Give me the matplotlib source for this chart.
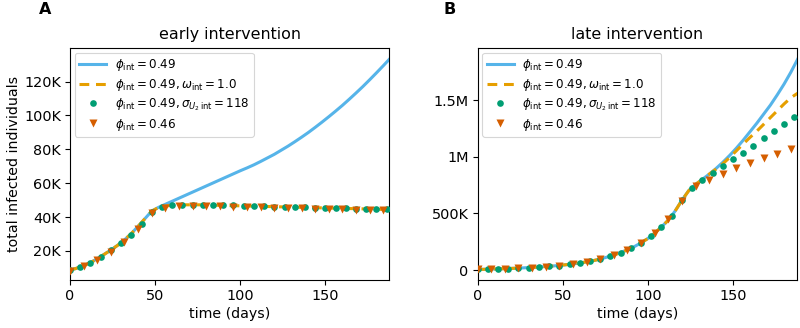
import matplotlib
matplotlib.use("Agg")
import matplotlib.pyplot as plt
from matplotlib.ticker import FuncFormatter

# ---------------- data ----------------
# Panel A (early intervention), values in thousands
tA_line = list(range(0, 189, 4))
A_blue = [8.5, 9.8, 11.3, 13.0, 15.4, 17.9, 20.5, 23.3, 26.5, 30.2, 34.5, 39.0, 43.5,
          45.7, 47.5, 49.3, 51.1, 52.9, 54.7, 56.5, 58.3, 60.1, 61.9, 63.7, 65.5, 67.3,
          69.0, 70.8, 72.8, 74.9, 77.0, 79.4, 81.8, 84.4, 87.1, 89.9, 92.9, 96.0, 99.2,
          102.5, 105.9, 109.5, 113.2, 117.0, 121.0, 125.1, 129.3, 133.6]
A_orange = [8.5, 9.8, 11.3, 13.0, 15.4, 17.9, 20.5, 23.3, 26.5, 30.2, 34.5, 39.0, 43.5,
            45.6, 46.5, 46.9, 47.1, 47.2, 47.2, 47.2, 47.1, 47.0, 46.9, 46.8, 46.7, 46.6,
            46.5, 46.4, 46.3, 46.2, 46.1, 46.0, 45.9, 45.8, 45.7, 45.6, 45.5, 45.4, 45.3,
            45.2, 45.1, 45.0, 44.9, 44.8, 44.7, 44.6, 44.5, 44.4]
tA_dots = list(range(0, 187, 6))
A_green = [8.5, 10.5, 13.0, 16.2, 20.3, 24.6, 29.6, 35.6, 43.2, 45.9, 46.9, 47.1, 47.2,
           47.2, 47.1, 46.9, 46.8, 46.6, 46.4, 46.3, 46.1, 46.0, 45.8, 45.7, 45.5, 45.4,
           45.2, 45.1, 44.9, 44.8, 44.6, 44.5]
tA_tri = list(range(0, 185, 8))
A_red = [8.3, 11.0, 14.5, 19.3, 25.3, 32.8, 42.5, 45.2, 46.3, 46.5, 46.5, 46.3, 46.1,
         45.9, 45.7, 45.5, 45.3, 45.1, 44.9, 44.7, 44.5, 44.3, 44.1, 43.9]

# Panel B (late intervention), values in thousands
tB_line = list(range(0, 189, 4))
B_blue = [5, 6.5, 8, 10, 12, 14.5, 17, 20, 23, 27, 31, 35.5, 41, 47, 54, 62, 72, 83, 97,
          114, 133, 154, 178, 206, 240, 278, 325, 380, 440, 520, 615, 700, 755, 800, 845,
          895, 950, 1010, 1075, 1145, 1220, 1295, 1375, 1455, 1545, 1640, 1745, 1860]
B_orange = [5, 6.5, 8, 10, 12, 14.5, 17, 20, 23, 27, 31, 35.5, 41, 47, 54, 62, 72, 83, 97,
            114, 133, 154, 178, 206, 240, 278, 325, 380, 440, 520, 615, 700, 755, 800, 845,
            890, 937, 992, 1052, 1112, 1170, 1225, 1285, 1345, 1405, 1465, 1520, 1560]
tB_dots = list(range(0, 187, 6))
B_green = [5, 7, 9, 12, 16, 20, 26, 33, 40, 50, 62, 77, 97, 123, 154, 192, 240, 300, 380,
           476, 615, 725, 794, 853, 917, 976, 1034, 1096, 1161, 1226, 1287, 1352]
tB_tri = list(range(0, 185, 8))
B_red = [5, 7, 11, 16, 22, 30, 40, 53, 71, 96, 132, 180, 240, 325, 447, 606, 738, 797,
         850, 897, 941, 985, 1026, 1066]

labels = [r'$\phi_{\mathrm{int}} = 0.49$',
          r'$\phi_{\mathrm{int}} = 0.49, \omega_{\mathrm{int}} = 1.0$',
          r'$\phi_{\mathrm{int}} = 0.49, \sigma_{U_2\,\mathrm{int}} = 118$',
          r'$\phi_{\mathrm{int}} = 0.46$']
titles = ['early intervention', 'late intervention']

C_BLUE = '#56B4E9'
C_ORANGE = '#E69F00'
C_GREEN = '#009E73'
C_RED = '#D55E00'


def kfmt(v, pos):
    if v == 0:
        return '0'
    if abs(v) >= 1e6:
        s = f'{v/1e6:.1f}'.rstrip('0').rstrip('.')
        return s + 'M'
    return f'{v/1e3:.0f}K'


fig = plt.figure(figsize=(8, 3.28), dpi=100)
axA = fig.add_axes([0.0875, 0.1463, 0.399, 0.7064])
axB = fig.add_axes([0.597, 0.1463, 0.399, 0.7064])

panels = [
    (axA, tA_line, A_blue, A_orange, tA_dots, A_green, tA_tri, A_red, (2.8e3, 139.6e3)),
    (axB, tB_line, B_blue, B_orange, tB_dots, B_green, tB_tri, B_red, (-88e3, 1.956e6)),
]

for i, (ax, tl, blue, orange, td, green, tt, red, yl) in enumerate(panels):
    ax.plot(tl, [v * 1e3 for v in blue], color=C_BLUE, lw=2.2, label=labels[0], zorder=2)
    ax.plot(tl, [v * 1e3 for v in orange], color=C_ORANGE, lw=2.2, ls=(0, (3.2, 2.2)),
            label=labels[1], zorder=3)
    ax.plot(td, [v * 1e3 for v in green], ls='none', marker='o', ms=4.8, color=C_GREEN,
            mec='none', label=labels[2], zorder=4)
    ax.plot(tt, [v * 1e3 for v in red], ls='none', marker='v', ms=5.2, color=C_RED,
            mec='none', label=labels[3], zorder=5)
    ax.set_xlim(0, 187.5)
    ax.set_ylim(*yl)
    ax.set_xticks([0, 50, 100, 150])
    ax.yaxis.set_major_formatter(FuncFormatter(kfmt))
    ax.tick_params(labelsize=10.4, length=3.5, pad=3)
    ax.set_xlabel('time (days)', fontsize=10.2, labelpad=2.5)
    ax.set_title(titles[i], fontsize=11.4, pad=7)
    leg = ax.legend(loc='upper left', fontsize=8.6, numpoints=1, handlelength=2.3,
                    borderpad=0.35, labelspacing=0.3, handletextpad=0.7,
                    borderaxespad=0.4)
    leg.get_frame().set_linewidth(0.8)

axA.set_yticks([20e3, 40e3, 60e3, 80e3, 100e3, 120e3])
axB.set_yticks([0, 500e3, 1e6, 1.5e6])
axA.set_ylabel('total infected individuals', fontsize=10.2, labelpad=2)

fig.text(0.056, 0.995, 'A', fontsize=11.5, fontweight='bold', ha='center', va='top')
fig.text(0.5625, 0.995, 'B', fontsize=11.5, fontweight='bold', ha='center', va='top')

fig.savefig('out.png', dpi=100)
